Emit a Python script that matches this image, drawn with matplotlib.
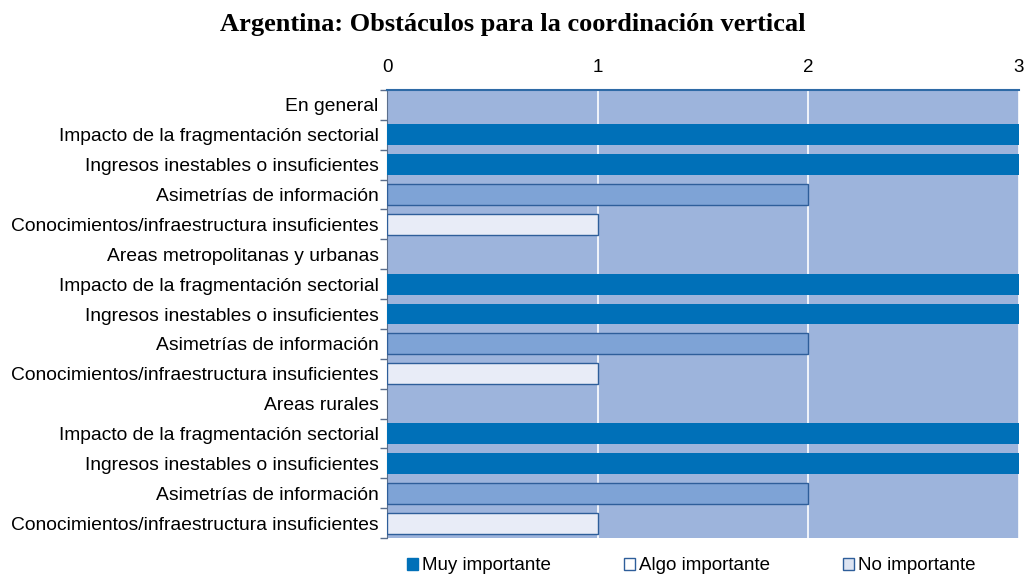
import matplotlib.pyplot as plt
from matplotlib.patches import Patch
import numpy as np

# Data
categorias = [
    "En general",
    "Impacto de la fragmentación sectorial",
    "Ingresos inestables o insuficientes",
    "Asimetrías de información",
    "Conocimientos/infraestructura insuficientes",
    "Areas metropolitanas y urbanas",
    "Impacto de la fragmentación sectorial",
    "Ingresos inestables o insuficientes",
    "Asimetrías de información",
    "Conocimientos/infraestructura insuficientes",
    "Areas rurales",
    "Impacto de la fragmentación sectorial",
    "Ingresos inestables o insuficientes",
    "Asimetrías de información",
    "Conocimientos/infraestructura insuficientes",
]
valores = [0, 3, 3, 2, 1, 0, 3, 3, 2, 1, 0, 3, 3, 2, 1]
leyenda = ["Muy importante", "Algo importante", "No importante"]
ticks_x = [0, 1, 2, 3]

# Styles per value
fill = {3: "#0070B8", 2: "#7EA3D6", 1: "#E8ECF7"}
edge = {3: "#0070B8", 2: "#2E5E9A", 1: "#2E5E9A"}

plt.rcParams["font.family"] = ["Liberation Sans", "DejaVu Sans"]

fig = plt.figure(figsize=(10.25, 5.75), dpi=100)
ax = fig.add_axes([0.3776, 0.0643, 0.9941 - 0.3776, 0.8435 - 0.0643])
ax.set_facecolor("#9DB4DC")

y = np.arange(len(categorias))
for yi, v in zip(y, valores):
    if v > 0:
        ax.barh(yi, v, height=0.7, color=fill[v], edgecolor=edge[v],
                linewidth=1.0 if v < 3 else 0, zorder=3)

ax.set_xlim(0, 3)
ax.set_ylim(len(categorias) - 0.5, -0.5)
ax.set_xticks(ticks_x)
ax.xaxis.tick_top()
ax.tick_params(axis="x", length=0, labelsize=13.5, pad=10)
ax.grid(axis="x", color="white", linewidth=1.2, zorder=1)

ax.set_yticks(y)
ax.set_yticklabels(categorias, fontsize=13.9)
ax.tick_params(axis="y", length=0, pad=6)
ax.set_yticks(np.arange(len(categorias) + 1) - 0.5, minor=True)
ax.tick_params(axis="y", which="minor", length=5, color="#5A6E8C", width=1)

for s in ["right", "bottom"]:
    ax.spines[s].set_visible(False)
ax.spines["top"].set_color("#2E6AA6")
ax.spines["top"].set_linewidth(1.5)
ax.spines["left"].set_color("#5A6E8C")

fig.text(0.5, 0.957, "Argentina: Obstáculos para la coordinación vertical",
         ha="center", va="center", fontsize=19, fontweight="bold",
         family="Liberation Serif")

handles = [
    Patch(facecolor="#0070B8", edgecolor="#0070B8"),
    Patch(facecolor="white", edgecolor="#2E5E9A"),
    Patch(facecolor="#DDE4F2", edgecolor="#2E5E9A"),
]
fig.legend(handles, leyenda, loc="center", bbox_to_anchor=(0.674, 0.016),
           ncol=3, frameon=False, fontsize=13.5, handlelength=0.6,
           handleheight=0.6, handletextpad=0.2, columnspacing=3.9)

fig.savefig("out.png", dpi=100)
